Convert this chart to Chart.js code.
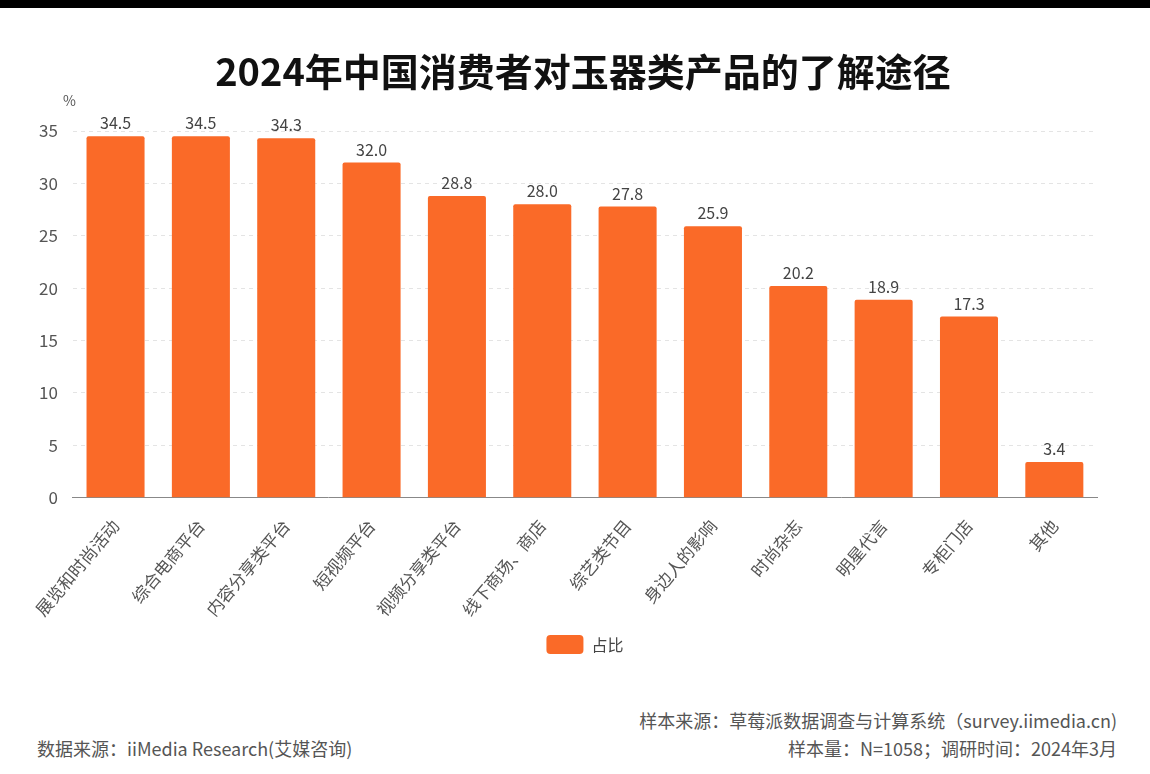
<!DOCTYPE html>
<html>
<head>
<meta charset="utf-8">
<script src="https://cdn.jsdelivr.net/npm/chart.js@4.4.1/dist/chart.umd.min.js"></script>
<style>
  html, body { margin: 0; padding: 0; background: #fff; }
  body { width: 1150px; height: 774px; position: relative; overflow: hidden;
         font-family: "Noto Sans CJK SC", "Noto Sans", sans-serif; }
  #topbar { position: absolute; left: 0; top: 0; width: 1150px; height: 8px; background: #000; }
  #wrap { position: absolute; left: 0; top: 0; width: 1150px; height: 668px; }
  #titulo { position: absolute; left: 0; width: 1166px; top: 42px; text-align: center;
            font-size: 38px; font-weight: bold; color: #111; white-space: nowrap; }
  .note { position: absolute; font-size: 18px; color: #555; white-space: nowrap; }
  #unit { left: 63px; top: 90px; font-size: 14px; color: #555; }
</style>
</head>
<body>
<div id="topbar"></div>
<div id="wrap"><canvas id="grafico"></canvas></div>
<div id="titulo">2024年中国消费者对玉器类产品的了解途径</div>
<div class="note" id="unit">%</div>
<div class="note" style="right:33px; top:707px;">样本来源：草莓派数据调查与计算系统（survey.iimedia.cn)</div>
<div class="note" style="left:37px; top:735px;">数据来源：iiMedia Research(艾媒咨询)</div>
<div class="note" style="right:33px; top:735px;">样本量：N=1058；调研时间：2024年3月</div>
<script>
// Dados do gráfico
var categorias = ["展览和时尚活动", "综合电商平台", "内容分享类平台", "短视频平台", "视频分享类平台",
    "线下商场、商店", "综艺类节目", "身边人的影响", "时尚杂志", "明星代言", "专柜门店", "其他"];
var valores = [34.5, 34.5, 34.3, 32.0, 28.8, 28.0, 27.8, 25.9, 20.2, 18.9, 17.3, 3.4];
var ticksY = [0, 5, 10, 15, 20, 25, 30, 35];

var laranja = "#fa6a28";
var fonte = "'Noto Sans CJK SC', 'Noto Sans', sans-serif";

// Plugin simples para escrever o valor acima de cada barra
var rotulosValor = {
    id: "rotulosValor",
    afterDatasetsDraw: function (chart) {
        var ctx = chart.ctx;
        var meta = chart.getDatasetMeta(0);
        ctx.save();
        ctx.font = "16px " + fonte;
        ctx.fillStyle = "#444";
        ctx.textAlign = "center";
        ctx.textBaseline = "bottom";
        meta.data.forEach(function (bar, i) {
            ctx.fillText(valores[i].toFixed(1), bar.x, bar.y - 5);
        });
        ctx.restore();
    }
};

// Centraliza a legenda sobre a área do gráfico (e não sobre o canvas inteiro)
var legendaCentro = {
    id: "legendaCentro",
    afterUpdate: function (chart) {
        var leg = chart.legend;
        if (!leg) return;
        leg.left = chart.chartArea.left;
        leg.right = chart.chartArea.right;
        leg.adjustHitBoxes();
    }
};

var ctx = document.getElementById("grafico");
new Chart(ctx, {
    type: "bar",
    data: {
        labels: categorias,
        datasets: [{
            label: "占比",
            data: valores,
            backgroundColor: laranja,
            borderRadius: { topLeft: 2, topRight: 2 },
            borderSkipped: "bottom",
            categoryPercentage: 0.68,
            barPercentage: 1
        }]
    },
    options: {
        responsive: true,
        maintainAspectRatio: false,
        animation: false,
        layout: { padding: { left: 24, right: 53, top: 131, bottom: 4 } },
        plugins: {
            legend: {
                position: "bottom",
                labels: {
                    color: "#444",
                    font: { family: fonte, size: 16 },
                    boxWidth: 37,
                    boxHeight: 19,
                    useBorderRadius: true,
                    borderRadius: 4,
                    padding: 5
                }
            },
            tooltip: { enabled: false }
        },
        scales: {
            x: {
                grid: { display: false },
                border: { color: "#888" },
                ticks: {
                    color: "#555",
                    font: { family: fonte, size: 17 },
                    minRotation: 50,
                    maxRotation: 50,
                    padding: 10
                }
            },
            y: {
                min: 0,
                max: 35,
                afterBuildTicks: function (axis) {
                    axis.ticks = ticksY.map(function (v) { return { value: v }; });
                },
                grid: { color: "#e4e4e4", drawTicks: false },
                border: { display: false, dash: [4, 4] },
                ticks: {
                    color: "#555",
                    font: { family: fonte, size: 17 },
                    padding: 15
                }
            }
        }
    },
    plugins: [rotulosValor, legendaCentro]
});
</script>
</body>
</html>
